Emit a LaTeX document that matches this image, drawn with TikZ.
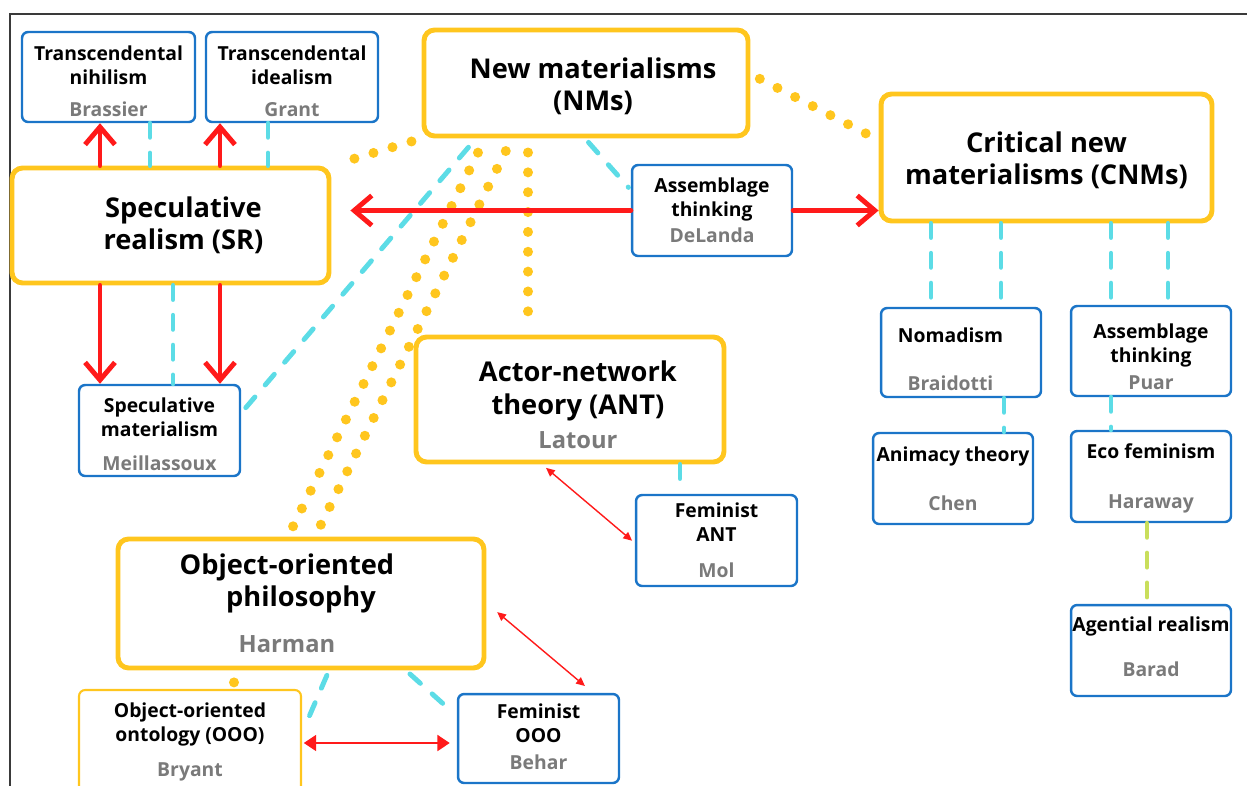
\documentclass[tikz,border=0pt]{standalone}
\usepackage{fontspec}
\setmainfont{Open Sans}
\usetikzlibrary{arrows.meta, positioning, calc}
\definecolor{cyellow}{HTML}{FFC61E}
\definecolor{cblue}{HTML}{1B75C8}
\definecolor{ccyan}{HTML}{5CDCE6}
\definecolor{cred}{HTML}{FF1A1A}
\definecolor{cgrey}{HTML}{7A7A7A}
\definecolor{cgreen}{HTML}{C9DE5B}
\definecolor{cframe}{HTML}{3A3A3A}
\newcommand{\who}[1]{{\color{cgrey}#1}}
\newcommand{\bigwho}[1]{{\fontsize{13.5}{16}\selectfont\color{cgrey}#1}}
\newcommand{\lift}[1]{\rule{0pt}{#1}}
\newcommand{\nudge}[1]{\hspace*{#1}}
\tikzset{
  every picture/.style={font=\bfseries},
  big/.style={draw=cyellow, fill=white, line width=2.8pt, rounded corners=6pt, align=center, inner sep=0pt, font=\bfseries\fontsize{15.5}{18.2}\selectfont},
  small/.style={draw=cblue, fill=white, line width=1.4pt, rounded corners=3.5pt, align=center, inner sep=0pt, font=\bfseries\fontsize{11}{13.6}\selectfont},
  raised/.style={execute at end node={\rule[-#1]{0pt}{0pt}}},
  redarrow/.style={-{Straight Barb[length=10pt,width=17pt]}, draw=cred, line width=2.8pt, line cap=round},
  twoway/.style={{Triangle[length=7pt,width=9pt]}-{Triangle[length=7pt,width=9pt]}, draw=cred, line width=1.3pt},
  thinway/.style={{Triangle[length=5pt,width=4.5pt]}-{Triangle[length=5pt,width=4.5pt]}, draw=cred, line width=0.8pt},
  link/.style={draw=ccyan, line width=2.8pt, line cap=round, dash pattern=on 8pt off 9pt},
  greenlink/.style={link, draw=cgreen},
  dots/.style={draw=cyellow, line width=5.7pt, line cap=round, dash pattern=on 0pt off 11.3pt},
}
\begin{document}
\begin{tikzpicture}[x=0.02cm, y=-0.02cm]
  \useasboundingbox (0,0) rectangle (1247,785);
  \draw[cframe, line width=1.7pt] (10,790) -- (10,14) -- (1250,14);

  \node[small, minimum width=3.46cm, minimum height=1.8cm] (tn) at (108.5,77) {\lift{12.9pt}Transcendental\\nihilism\\[4.5pt]\who{Brassier}};
  \node[small, minimum width=3.44cm, minimum height=1.8cm] (ti) at (292,77) {\lift{12.9pt}Transcendental\\idealism\\[4.5pt]\who{Grant}};
  \node[big, minimum width=6.48cm, minimum height=2.12cm] (nm) at (586,83) {\nudge{8pt}\lift{15.2pt}New materialisms\\\nudge{8pt}(NMs)};
  \node[big, minimum width=6.34cm, minimum height=2.3cm] (sr) at (170.5,225.5) {\nudge{14.7pt}Speculative\\\nudge{14.7pt}realism (SR)};
  \node[small, minimum width=3.2cm, minimum height=1.82cm] (dl) at (712,210.5) {Assemblage\\thinking\\[1.5pt]\who{DeLanda}};
  \node[big, minimum width=6.62cm, minimum height=2.54cm] (cnm) at (1046.5,157.5) {\lift{15.2pt}Critical new\\materialisms (CNMs)};
  \node[small, minimum width=3.2cm, minimum height=1.78cm] (nom) at (961,352.5) {\lift{16.4pt}Nomadism\nudge{12pt}\\[13.6pt]\who{Braidotti}\nudge{12pt}};
  \node[small, minimum width=3.2cm, minimum height=1.8cm] (puar) at (1151,351) {\lift{15.2pt}Assemblage\\thinking\\[2pt]\who{Puar}};
  \node[small, minimum width=3.2cm, minimum height=1.82cm] (chen) at (953,478.5) {Animacy theory\\[14pt]\who{Chen}};
  \node[small, minimum width=3.2cm, minimum height=1.82cm] (hara) at (1151,476.5) {\lift{10.5pt}Eco feminism\\[15pt]\who{Haraway}};
  \node[small, raised=4.5pt, minimum width=3.2cm, minimum height=1.82cm] (barad) at (1151,650.5) {Agential realism\\[12pt]\who{Barad}};
  \node[small, minimum width=3.22cm, minimum height=1.82cm] (sm) at (159.5,430.5) {\lift{12.9pt}Speculative\\materialism\\[6pt]\who{Meillassoux}};
  \node[big, minimum width=6.16cm, minimum height=2.5cm] (ant) at (570,399.5) {\nudge{9pt}\lift{17.5pt}Actor-network\\[1pt]\nudge{9pt}theory (ANT)\\[1pt]\nudge{9pt}\bigwho{Latour}};
  \node[small, minimum width=3.22cm, minimum height=1.82cm] (mol) at (716.5,540.5) {Feminist\\ANT\\[7pt]\who{Mol}};
  \node[big, minimum width=7.32cm, minimum height=2.58cm] (oop) at (301,603.5) {Object-oriented\nudge{16pt}\\philosophy\nudge{16pt}\\[8pt]\bigwho{Harman}\nudge{16pt}};
  \node[small, draw=cyellow, line width=1.2pt, minimum width=4.44cm, minimum height=2.08cm] (ooo) at (190,742) {Object-oriented\\ontology (OOO)\\[6pt]\who{Bryant}};
  \node[small, raised=2.3pt, minimum width=3.22cm, minimum height=1.78cm] (behar) at (538.5,738.5) {Feminist\\OOO\\[2pt]\who{Behar}};

  \draw[redarrow] (sr.north -| 100,0) -- (tn.south -| 100,0);
  \draw[redarrow] (sr.north -| 220,0) -- (ti.south -| 220,0);
  \draw[link] (tn.south -| 150,0) -- (sr.north -| 150,0);
  \draw[link] (ti.south -| 268,0) -- (sr.north -| 268,0);
  \draw[redarrow] (sr.south -| 100,0) -- (sm.north -| 100,0);
  \draw[redarrow] (sr.south -| 220,0) -- (sm.north -| 220,0);
  \draw[link] (sr.south -| 173,0) -- (sm.north -| 173,0);
  \draw[link, shorten <=4pt, shorten >=4pt] (sm.east |- 0,413) -- (nm.south -| 476,0);

  \draw[dots, shorten <=6pt, shorten >=10pt] (nm.south west) -- (sr.north east);
  \draw[dots, shorten <=8pt, shorten >=5pt] (nm.south -| 528,0) -- (ant.north -| 528,0);
  \draw[dots, shorten <=9pt, shorten >=5pt] (nm.south -| 485,0) -- (oop.north -| 288,0);
  \draw[dots, shorten <=8pt, shorten >=6pt] (nm.south -| 512,0) -- (oop.north -| 315,0);
  \draw[dots, shorten <=6pt, shorten >=4pt] (nm.east |- 0,74) -- (cnm.west |- 0,140);
  \draw[dots, shorten <=6.8pt, shorten >=2pt] (oop.south -| 234,0) -- (ooo.north -| 234,0);

  \draw[link, shorten <=3pt, shorten >=2pt] (nm.south -| 585,0) -- (dl.west |- 0,190);
  \draw[redarrow, shorten >=10.8pt] (dl.west) -- (sr.east |- dl.west);
  \draw[redarrow] (dl.east) -- (cnm.west |- dl.east);

  \draw[link] (cnm.south -| 931,0) -- (nom.north -| 931,0);
  \draw[link] (cnm.south -| 1001,0) -- (nom.north -| 1001,0);
  \draw[link] (cnm.south -| 1111,0) -- (puar.north -| 1111,0);
  \draw[link] (cnm.south -| 1168,0) -- (puar.north -| 1168,0);
  \draw[link] (nom.south -| 1004,0) -- (chen.north -| 1004,0);
  \draw[link] (puar.south -| 1111,0) -- (hara.north -| 1111,0);
  \draw[greenlink] (hara.south -| 1147,0) -- (barad.north -| 1147,0);

  \draw[link] (ant.south -| 680,0) -- (mol.north -| 680,0);
  \draw[thinway, shorten <=3pt, shorten >=2pt] (ant.south -| 542,0) -- (mol.west |- 0,543);
  \draw[thinway, shorten <=8pt, shorten >=6pt] (oop.east |- 0,603) -- (behar.north -| 593,0);
  \draw[link, shorten <=3pt, shorten >=3pt] (oop.south -| 329,0) -- (ooo.east |- 0,733);
  \draw[link, shorten <=3pt, shorten >=3pt] (oop.south -| 406,0) -- (behar.west |- 0,716);
  \draw[twoway, shorten <=1pt, shorten >=4pt] (ooo.east |- 0,743) -- (behar.west |- 0,743);
\end{tikzpicture}
\end{document}
